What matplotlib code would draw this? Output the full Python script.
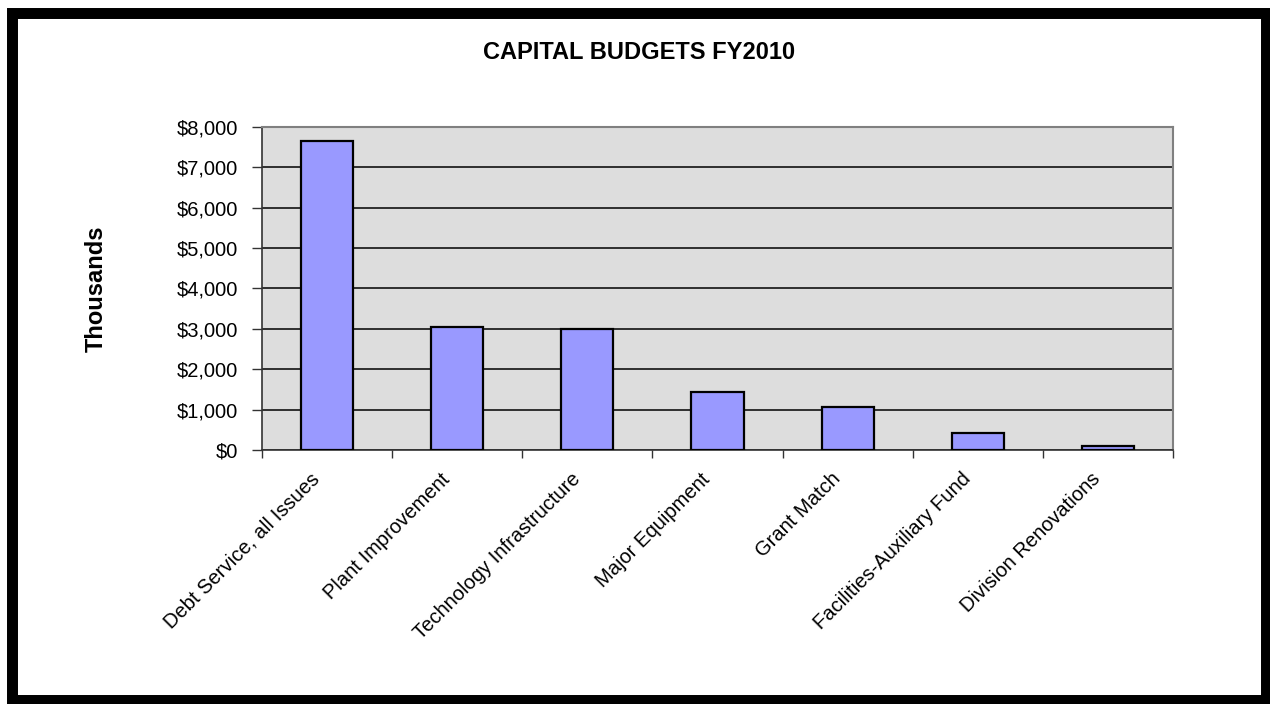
import matplotlib
matplotlib.use('Agg')
import matplotlib.pyplot as plt
from matplotlib.patches import Rectangle
from matplotlib.ticker import FuncFormatter, FixedLocator
import numpy as np

plt.rcParams['font.family'] = ['Liberation Sans', 'DejaVu Sans']

categories = ['Debt Service, all Issues', 'Plant Improvement', 'Technology Infrastructure',
              'Major Equipment', 'Grant Match', 'Facilities-Auxiliary Fund', 'Division Renovations']
budget = [7650, 3050, 3000, 1440, 1070, 430, 90]  # thousands of dollars
yticks = [0, 1000, 2000, 3000, 4000, 5000, 6000, 7000, 8000]

fig = plt.figure(figsize=(12.7, 7.04), dpi=100)
ax = fig.add_axes([0.2063, 0.3608, 0.7173, 0.4588])

x = np.arange(len(categories))
ax.bar(x, budget, width=0.4, color='#9999FF', edgecolor='black', linewidth=1.6, zorder=3)

ax.set_facecolor('#DDDDDD')
ax.set_xlim(-0.5, len(categories) - 0.5)
ax.set_ylim(0, 8000)
ax.set_yticks(yticks)
ax.yaxis.set_major_formatter(FuncFormatter(lambda v, p: '${:,.0f}'.format(v)))
ax.grid(axis='y', color='black', linewidth=1.1, zorder=1)
ax.set_axisbelow(True)

# rotated category labels end just left of each bar centre;
# the visible tick marks sit on the category boundaries
ax.set_xticks(x - 0.13)
ax.set_xticklabels(categories, rotation=45, ha='right', rotation_mode='anchor', fontsize=14.5)
ax.xaxis.set_minor_locator(FixedLocator(np.arange(-0.5, len(categories), 1.0)))
ax.tick_params(axis='x', which='major', length=0, pad=14)
ax.tick_params(axis='x', which='minor', length=6, width=1, color='#333333', direction='out')
ax.tick_params(axis='y', length=7, width=1, color='#333333', direction='out', labelsize=14.5, pad=10)

for side in ['left', 'bottom']:
    ax.spines[side].set_color('#333333')
    ax.spines[side].set_linewidth(1.2)
for side in ['top', 'right']:
    ax.spines[side].set_color('#808080')
    ax.spines[side].set_linewidth(1.5)

ax.set_ylabel('Thousands', fontsize=17, fontweight='bold', labelpad=0)
ax.yaxis.set_label_coords(-0.169, 0.5)

fig.text(0.503, 0.926, 'CAPITAL BUDGETS FY2010', ha='center', va='center',
         fontsize=17, fontweight='bold')

# thick black frame around the whole chart
fig.patches.append(Rectangle((0.0098, 0.0057), 0.9871, 0.9765, transform=fig.transFigure,
                             fill=False, edgecolor='black', linewidth=7.9))

fig.savefig('out.png', dpi=100)
